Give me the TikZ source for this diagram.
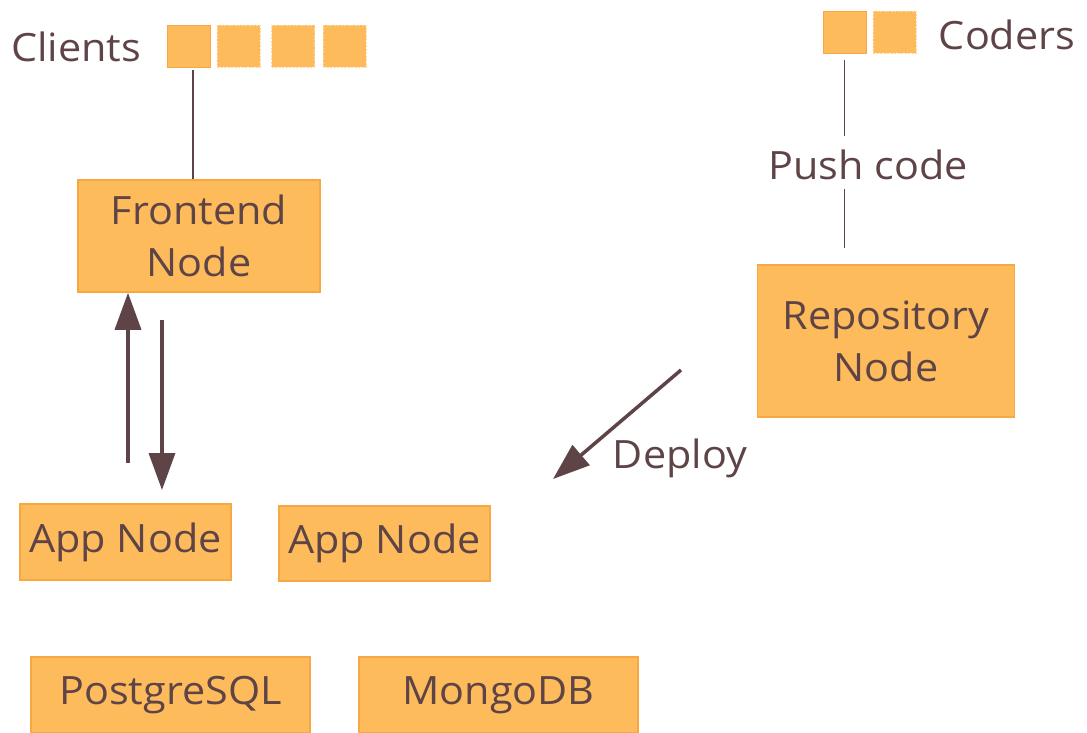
\documentclass[tikz,border=0pt]{standalone}
\usepackage{fontspec}
\setmainfont[FakeStretch=1.06]{Open Sans}
\usetikzlibrary{arrows.meta}
\definecolor{txt}{HTML}{5E4446}
\definecolor{boxfill}{HTML}{FEBB5C}
\definecolor{boxline}{HTML}{F8A745}
\definecolor{dashline}{HTML}{FDD9A4}
\tikzset{
  every node/.style={text=txt, font=\fontsize{39}{52}\selectfont},
  box/.style={draw=boxline, line width=1.5pt, fill=boxfill, inner sep=0pt, align=center},
  sqsolid/.style={draw=boxline, line width=1pt, fill=boxfill, minimum width=43pt, minimum height=42pt, inner sep=0pt},
  sqdash/.style={draw=dashline, dashed, dash pattern=on 2pt off 1.5pt, line width=1pt, fill=boxfill, minimum width=43pt, minimum height=42pt, inner sep=0pt},
  thinline/.style={draw=txt, line width=1.2pt},
  arr/.style={draw=txt, line width=3.5pt, -{Triangle[length=37pt,width=26pt]}},
  lbl/.style={inner sep=0pt}
}
\begin{document}
\begin{tikzpicture}[x=1pt,y=-1pt]
\useasboundingbox (0,0) rectangle (1087,732);
% clients
\node[lbl] (clients) at (76,47) {Clients};
\node[sqsolid] (c1) at (188.5,46) {};
\node[sqdash] (c2) at (238.5,46) {};
\node[sqdash] (c3) at (293,46) {};
\node[sqdash] (c4) at (344.5,46) {};
% coders
\node[sqsolid] (k1) at (844.5,32) {};
\node[sqdash] (k2) at (894.5,32) {};
\node[lbl] (coders) at (1007,35) {Coders};
% boxes
\node[box, minimum width=242pt, minimum height=112pt] (fe) at (199,236) {Frontend\\Node};
\node[box, minimum width=257pt, minimum height=152pt] (repo) at (886,341) {Repository\\Node};
\node[box, minimum width=211pt, minimum height=76pt] (app1) at (125.5,542) {App Node};
\node[box, minimum width=211pt, minimum height=75pt] (app2) at (384.5,543.5) {App Node};
\node[box, minimum width=279pt, minimum height=76pt] (pg) at (170.5,695) {PostgreSQL};
\node[box, minimum width=279pt, minimum height=76pt] (mongo) at (498.5,695) {MongoDB};
% push code
\node[lbl] (push) at (868,165) {Push code};
\draw[thinline] ([yshift=-6pt]k1.south) -- (k1.south |- 0,136);
\draw[thinline] (k1.south |- 0,189) -- ([yshift=16pt]k1.south |- repo.north);
% clients line
\coordinate (cl) at (193,70);
\draw[thinline] (cl) -- (cl |- fe.north);
% arrows between frontend and app
\coordinate (upstart) at (128,463);
\coordinate (dnend) at (162,490);
\draw[arr] (upstart) -- (upstart |- fe.south);
\draw[arr] (dnend |- 0,320) -- (dnend);
% deploy
\coordinate (dstart) at (681,370);
\coordinate (dend) at (553,479);
\draw[arr] (dstart) -- (dend);
\node[lbl] (deploy) at (680,458) {Deploy};
\end{tikzpicture}
\end{document}
